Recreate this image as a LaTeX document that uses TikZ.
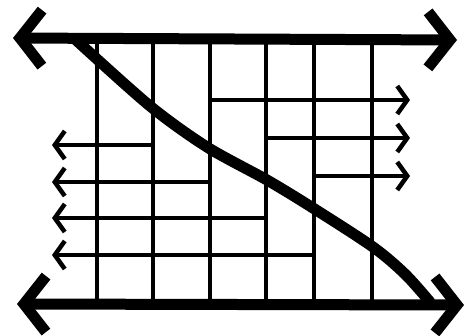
\documentclass[tikz,border=0pt]{standalone}
\usetikzlibrary{arrows.meta}
\tikzset{
  axisline/.style={line width=11pt,{Straight Barb[length=22pt,width=56pt]}-{Straight Barb[length=22pt,width=56pt]}},
  gridline/.style={line width=4.5pt},
  leftarrow/.style={gridline,{Straight Barb[length=10pt,width=28pt]}-},
  rightarrow/.style={gridline,-{Straight Barb[length=10pt,width=28pt]}},
  sweepline/.style={line width=11pt,line cap=round}
}

\begin{document}
\begin{tikzpicture}[x=1pt,y=-1pt]
  \useasboundingbox (0,0) rectangle (468,335);
  % columns of the grid
  \foreach \cx [count=\i] in {97,153,210,266,314,372} {
    \coordinate (top\i) at (\cx,38);
    \coordinate (bot\i) at (\cx,304);
    \draw[gridline] (top\i) -- (bot\i);
  }
  % rows running out to the left
  \foreach \ry/\rx [count=\k] in {145/153,182/210,218/266,255/314} {
    \coordinate (lend\k) at (52,\ry);
    \coordinate (lstart\k) at (\rx,\ry);
    \draw[leftarrow] (lend\k) -- (lstart\k);
  }
  % rows running out to the right
  \foreach \ry/\rx [count=\k] in {100/210,138/266,176/314} {
    \coordinate (rstart\k) at (\rx,\ry);
    \coordinate (rend\k) at (410,\ry);
    \draw[rightarrow] (rstart\k) -- (rend\k);
  }
  % the two axes
  \coordinate (tl) at (13,38);
  \coordinate (tr) at (457,40);
  \coordinate (bl) at (17,304);
  \coordinate (br) at (464,305);
  \draw[axisline] (tl) -- (tr);
  \draw[axisline] (bl) -- (br);
  % the sweeping diagonal
  \draw[sweepline] plot[smooth,tension=0.5] coordinates
    {(76,40) (150,106) (207,147) (267,180) (313,208) (373,247) (405,274) (430,302)};
\end{tikzpicture}
\end{document}
